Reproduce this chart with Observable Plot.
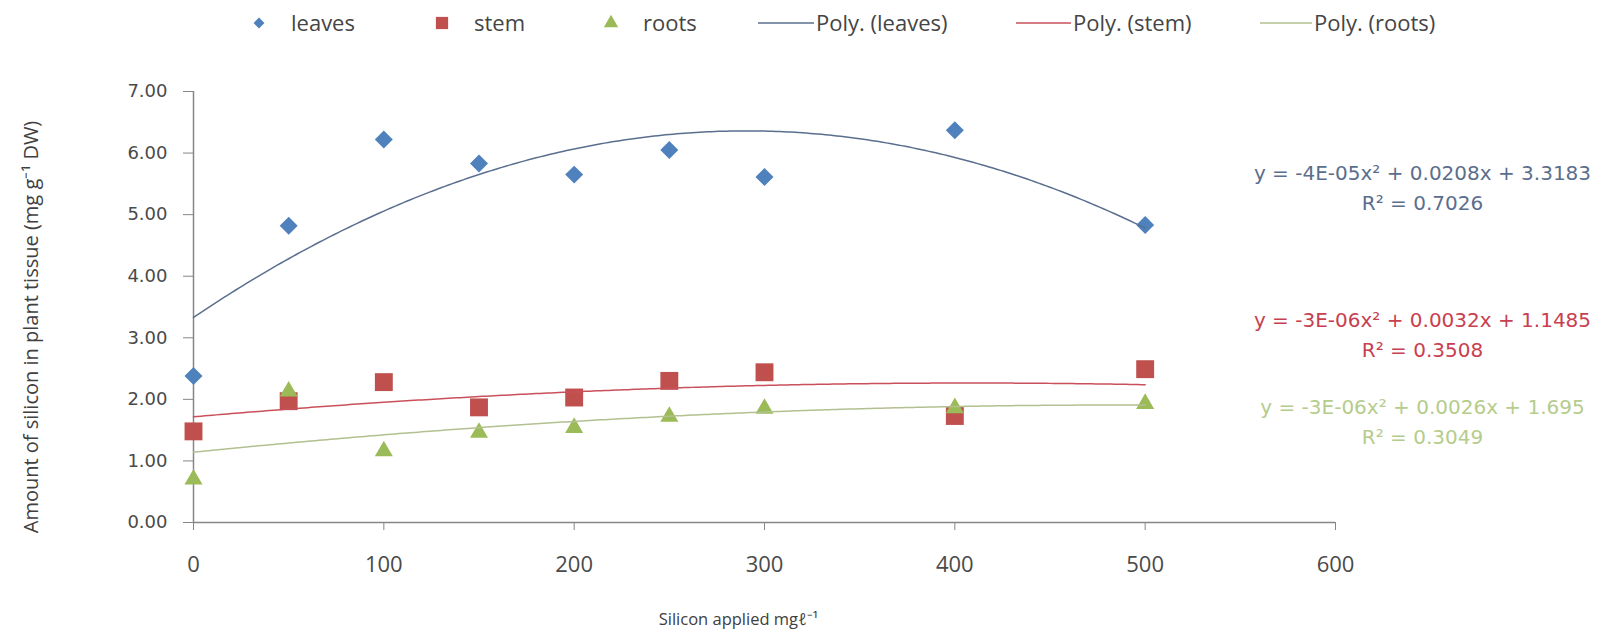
<!DOCTYPE html>
<html>
<head>
<meta charset="utf-8">
<script src="https://cdn.jsdelivr.net/npm/d3@7"></script>
<script src="https://cdn.jsdelivr.net/npm/@observablehq/plot@0.6"></script>
<style>
  html, body { margin: 0; padding: 0; background: #fff; }
  #wrap { width: 1602px; height: 632px; position: relative; overflow: hidden; }
  #legend { display: block; }
  #chart svg [aria-label="x-axis tick"], #chart svg [aria-label="y-axis tick"] { stroke: #868686; }
  #chart svg [aria-label="x-axis tick label"], #chart svg [aria-label="y-axis tick label"] { fill: #4a4a4a; }
</style>
</head>
<body>
<div id="wrap">
  <div id="legendBox"></div>
  <div id="chart"></div>
</div>
<script>
// ---- data ----
const silicon = [0, 50, 100, 150, 200, 250, 300, 400, 500];
const leaves  = [2.38, 4.82, 6.22, 5.83, 5.65, 6.05, 5.61, 6.37, 4.83];
const stem    = [1.48, 1.97, 2.28, 1.87, 2.03, 2.30, 2.44, 1.73, 2.49];
const roots   = [0.70, 2.13, 1.16, 1.46, 1.54, 1.72, 1.85, 1.86, 1.93];

const seriesNames  = ["leaves", "stem", "roots"];
const trendNames   = ["Poly. (leaves)", "Poly. (stem)", "Poly. (roots)"];
const markerColors = ["#4F81BD", "#C0504D", "#9BBB59"];
const trendColors  = ["#5a6f8e", "#c9505a", "#b3c091"];
const eqColors     = ["#5b6e8c", "#c8404f", "#b5cc8c"];

const equations = ["y = -4E-05x² + 0.0208x + 3.3183", "y = -3E-06x² + 0.0032x + 1.1485", "y = -3E-06x² + 0.0026x + 1.695"];
const rSquared  = ["R² = 0.7026", "R² = 0.3508", "R² = 0.3049"];

const xTicks = [0, 100, 200, 300, 400, 500, 600];
const yTicks = [0, 1, 2, 3, 4, 5, 6, 7];
const xTitle = "Silicon applied mgℓ⁻¹";
const yTitle = "Amount of silicon in plant tissue (mg g⁻¹ DW)";

// ---- least-squares quadratic trendline (as Excel's Poly. order 2) ----
function quadFit(xs, ys) {
  const S = k => d3.sum(xs, x => Math.pow(x, k));
  const T = k => d3.sum(xs, (x, i) => Math.pow(x, k) * ys[i]);
  const A = [[S(0), S(1), S(2), T(0)], [S(1), S(2), S(3), T(1)], [S(2), S(3), S(4), T(2)]];
  for (let i = 0; i < 3; i++) {
    for (let j = i + 1; j < 3; j++) {
      const f = A[j][i] / A[i][i];
      for (let k = i; k < 4; k++) A[j][k] -= f * A[i][k];
    }
  }
  const c = [0, 0, 0];
  for (let i = 2; i >= 0; i--) {
    let s = A[i][3];
    for (let k = i + 1; k < 3; k++) s -= A[i][k] * c[k];
    c[i] = s / A[i][i];
  }
  return c; // c0 + c1 x + c2 x^2
}

const seriesValues = [leaves, stem, roots];
const points = seriesValues.flatMap((vals, s) => silicon.map((x, i) => ({series: seriesNames[s], x, y: vals[i]})));
const trends = seriesValues.flatMap((vals, s) => {
  const c = quadFit(silicon, vals);
  const xmax = d3.max(silicon);
  return d3.range(0, xmax + 1, 2).map(x => ({series: seriesNames[s], x, y: c[0] + c[1] * x + c[2] * x * x}));
});

// ---- legend (above the plot) ----
const legend = d3.create("svg").attr("id", "legend").attr("width", 1602).attr("height", 50);
const lg = legend.append("g").attr("font-family", "'Open Sans', sans-serif").attr("font-size", 22).attr("fill", "#454545");
const symX = [259, 442, 611];
const symbols = [d3.symbolDiamond2, d3.symbolSquare, d3.symbolTriangle];
const symSizes = [75, 150, 90];
seriesNames.forEach((name, i) => {
  lg.append("path").attr("d", d3.symbol(symbols[i], symSizes[i])()).attr("transform", `translate(${symX[i]},23)`).attr("fill", markerColors[i]);
  lg.append("text").attr("x", symX[i] + 32).attr("y", 31).text(name);
});
const lineX = [[758, 814], [1016, 1071], [1260, 1312]];
trendNames.forEach((name, i) => {
  lg.append("line").attr("x1", lineX[i][0]).attr("x2", lineX[i][1]).attr("y1", 23).attr("y2", 23).attr("stroke", trendColors[i]).attr("stroke-width", 1.5);
  lg.append("text").attr("x", lineX[i][1] + 2).attr("y", 31).text(name);
});
document.getElementById("legendBox").append(legend.node());

// ---- plot ----
const eqAnchors = [82, 229, 316];
const textMarks = [];
equations.forEach((eq, i) => {
  textMarks.push(Plot.text([eq], {frameAnchor: "top-right", dx: 87, dy: eqAnchors[i], fill: eqColors[i], fontSize: 20, fontFamily: "'DejaVu Sans', sans-serif", textAnchor: "middle", lineAnchor: "middle"}));
  textMarks.push(Plot.text([rSquared[i]], {frameAnchor: "top-right", dx: 87, dy: eqAnchors[i] + 30, fill: eqColors[i], fontSize: 20, fontFamily: "'DejaVu Sans', sans-serif", textAnchor: "middle", lineAnchor: "middle"}));
});

const chart = Plot.plot({
  width: 1602,
  height: 582,
  marginTop: 41,
  marginBottom: 110,
  marginLeft: 193,
  marginRight: 267,
  style: {fontFamily: "'Open Sans', sans-serif", background: "white"},
  x: {domain: [0, 600]},
  y: {domain: [0, 7]},
  color: {domain: seriesNames, range: markerColors},
  marks: [
    Plot.axisY({ticks: yTicks, tickSize: 10, tickPadding: 16, tickFormat: d3.format(".2f"), fontSize: 18, fontFamily: "'DejaVu Sans', sans-serif", label: null}),
    Plot.axisX({ticks: xTicks, tickSize: 8, tickPadding: 26, fontSize: 22, label: null}),
    Plot.ruleY([0], {stroke: "#868686", strokeWidth: 1.5}),
    Plot.ruleX([0], {stroke: "#868686", strokeWidth: 1.5}),
    Plot.dot(points.filter(d => d.series === "leaves"), {x: "x", y: "y", symbol: "diamond2", r: 8.1, fill: markerColors[0], stroke: "none"}),
    Plot.dot(points.filter(d => d.series === "stem"), {x: "x", y: "y", symbol: "square", r: 10.1, fill: markerColors[1], stroke: "none"}),
    Plot.dot(points.filter(d => d.series === "roots"), {x: "x", y: "y", symbol: "triangle", r: 6.7, fill: markerColors[2], stroke: "none"}),
    Plot.line(trends.filter(d => d.series === "leaves"), {x: "x", y: "y", stroke: trendColors[0], strokeWidth: 1.5}),
    Plot.line(trends.filter(d => d.series === "stem"), {x: "x", y: "y", stroke: trendColors[1], strokeWidth: 1.5}),
    Plot.line(trends.filter(d => d.series === "roots"), {x: "x", y: "y", stroke: trendColors[2], strokeWidth: 1.5}),
    Plot.text([yTitle], {frameAnchor: "left", dx: -162, dy: 20, rotate: -90, fontSize: 20, fill: "#404040", textAnchor: "middle", lineAnchor: "middle"}),
    Plot.text([xTitle], {frameAnchor: "bottom", dx: -26, dy: 97, fontSize: 16.5, fill: "#404040", textAnchor: "middle", lineAnchor: "middle"}),
    ...textMarks
  ]
});
document.getElementById("chart").append(chart);
</script>
</body>
</html>
